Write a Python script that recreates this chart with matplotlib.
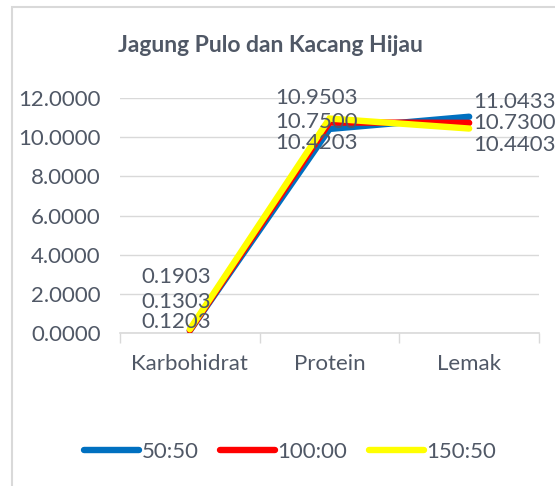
import matplotlib
matplotlib.use("Agg")
import matplotlib.pyplot as plt
from matplotlib.patches import Rectangle
from matplotlib.lines import Line2D

plt.rcParams['font.family'] = ['Lato', 'DejaVu Sans']

# --- data ---
categories = ['Karbohidrat', 'Protein', 'Lemak']
series_names = ['50:50', '100:00', '150:50']
vals_5050 = [0.1203, 10.4203, 11.0433]
vals_10000 = [0.1303, 10.7500, 10.7300]
vals_15050 = [0.1903, 10.9503, 10.4403]
yticks = [0, 2, 4, 6, 8, 10, 12]

colors = ['#0070C0', '#FF0000', '#FFFF00']
text_col = '#505866'
grid_col = '#d9d9d9'

# label offsets in pixels (dx, dy) per series, per category
offsets = [
    [(-14, 9), (-13, -14), (45, 15)],
    [(-14, 28), (-13, 0), (45, 0)],
    [(-14, 52), (-13, 21), (45, -16)],
]

W, H, DPI = 555, 486, 100
fig = plt.figure(figsize=(W / DPI, H / DPI), dpi=DPI, facecolor='white')

# chart frame (Excel style)
fig.patches.append(Rectangle((12 / W, -0.1), 1.2, (H - 7) / H + 0.1,
                             transform=fig.transFigure, fill=False,
                             edgecolor=grid_col, lw=1.5))

ax = fig.add_axes([120 / W, (H - 333) / H, (539 - 120) / W, (333 - 98) / H])
ax.set_facecolor('none')

x = list(range(len(categories)))
all_vals = [vals_5050, vals_10000, vals_15050]
for vals, c, name in zip(all_vals, colors, series_names):
    ax.plot(x, vals, color=c, lw=4.6, solid_capstyle='round',
            solid_joinstyle='miter', label=name, zorder=3)

fs = 16
for vals, offs in zip(all_vals, offsets):
    for xi, v, (dx, dy) in zip(x, vals, offs):
        ax.annotate(f'{v:.4f}', xy=(xi, v), xytext=(dx, dy),
                    textcoords='offset pixels', ha='center', va='center',
                    fontsize=fs, color=text_col, zorder=4)

ax.set_xlim(-0.5, 2.5)
ax.set_ylim(0, 12)
ax.set_yticks(yticks)
ax.set_yticklabels([f'{v:.4f}' for v in yticks])
ax.yaxis.grid(True, color=grid_col, lw=1)
ax.set_axisbelow(True)
ax.tick_params(axis='y', length=0, pad=14, labelsize=fs, labelcolor=text_col)

ax.set_xticks(x)
ax.set_xticklabels(categories)
ax.set_xticks([-0.5, 0.5, 1.5, 2.5], minor=True)
ax.tick_params(axis='x', which='major', length=0, pad=15, labelsize=fs,
               labelcolor=text_col)
ax.tick_params(axis='x', which='minor', length=7, width=1, color=grid_col)

for s in ['top', 'right', 'left']:
    ax.spines[s].set_visible(False)
ax.spines['bottom'].set_color(grid_col)
ax.spines['bottom'].set_linewidth(1.2)

fig.text(270 / W, (H - 45) / H, 'Jagung Pulo dan Kacang Hijau', ha='center',
         va='center', fontsize=16.5, fontweight='bold', color=text_col)

handles = [Line2D([], [], color=c, lw=4.6, solid_capstyle='round') for c in colors]
fig.legend(handles, series_names, loc='center', bbox_to_anchor=(290 / W, (H - 452) / H),
           ncol=3, frameon=False, fontsize=fs, labelcolor=text_col,
           handlelength=2.5, handletextpad=0.1, columnspacing=0.95)

fig.savefig('out.png', dpi=DPI, facecolor='white')
